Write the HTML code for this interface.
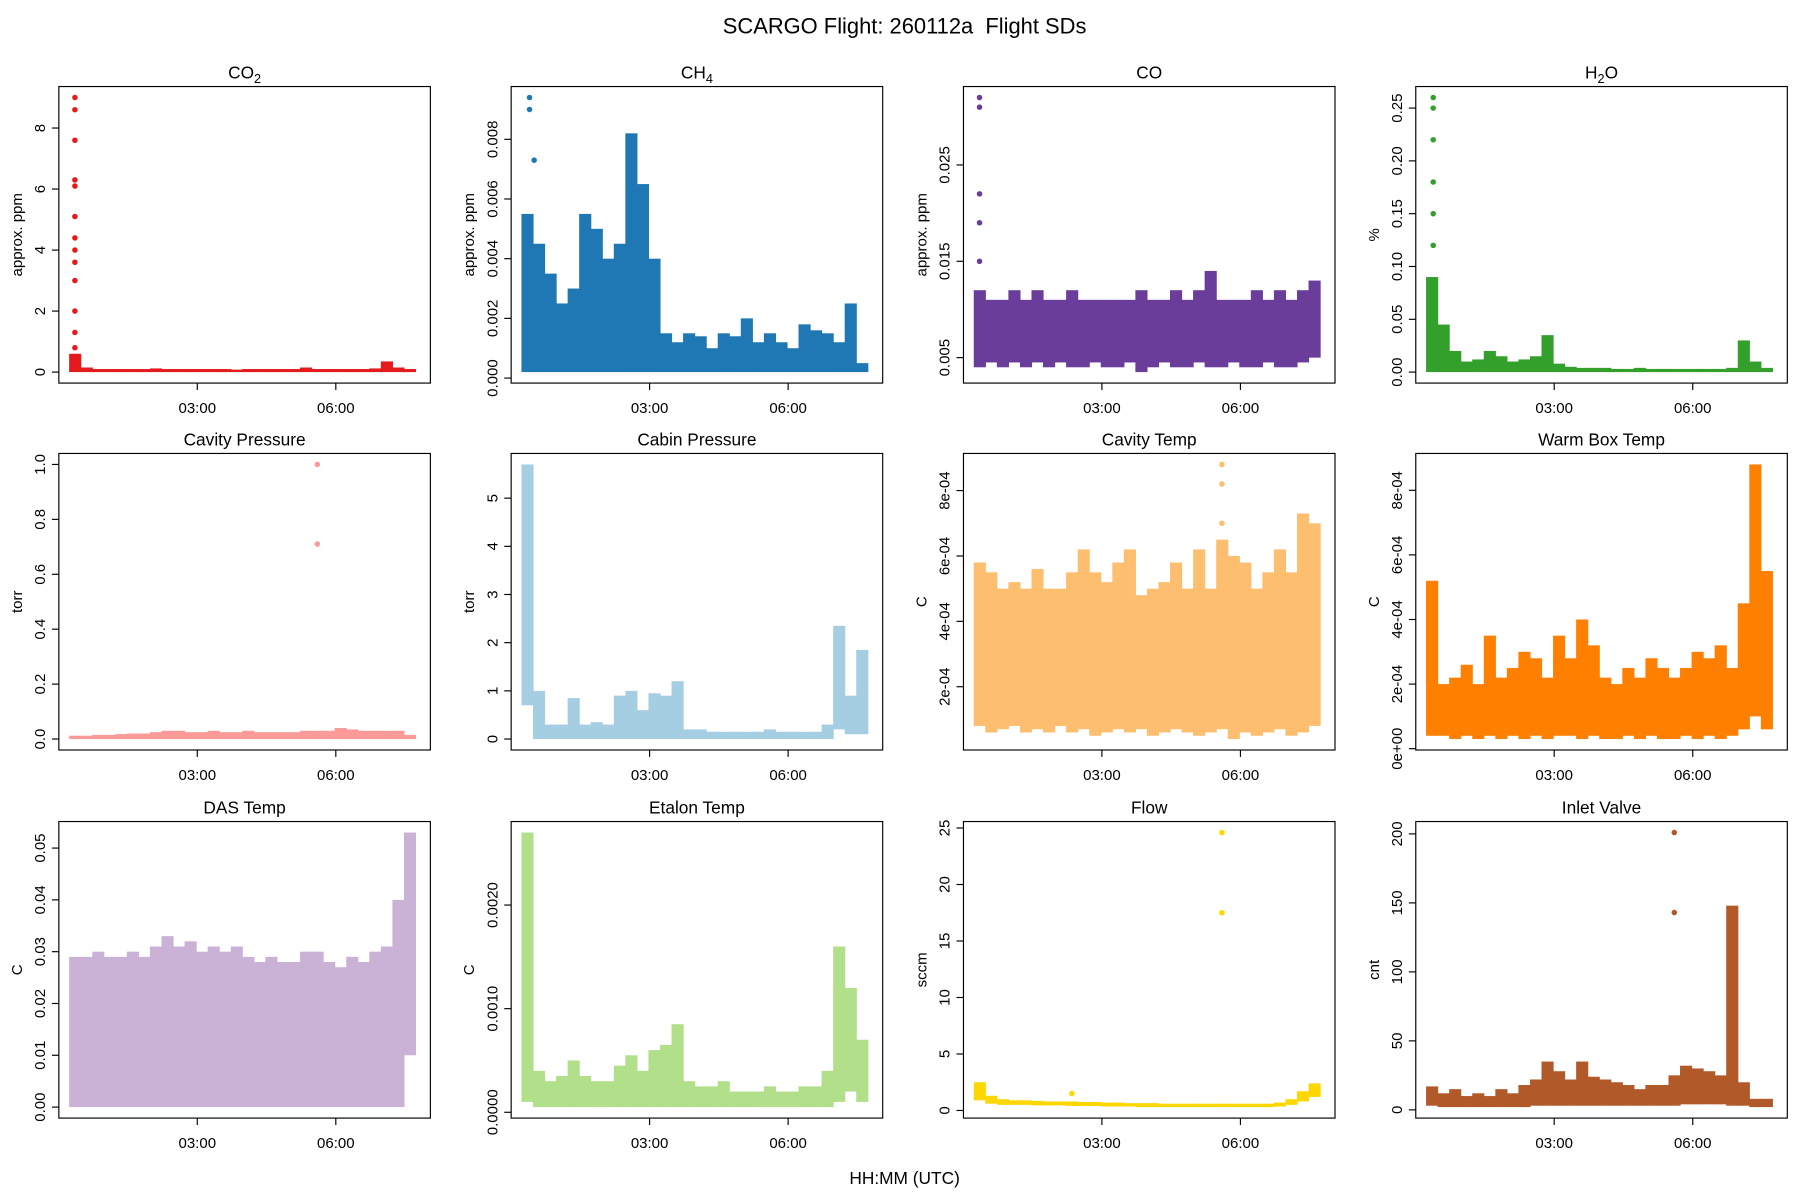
<!DOCTYPE html>
<html><head><meta charset="utf-8"><style>
html,body{margin:0;padding:0;background:#fff}
svg{display:block;font-family:"Liberation Sans",sans-serif}
</style></head><body>
<svg id="c" width="1800" height="1200" viewBox="0 0 1560 1040">
<text x="784" y="29" text-anchor="middle" font-size="19" xml:space="preserve">SCARGO Flight: 260112a&#160; Flight SDs</text>
<text x="784" y="1026" text-anchor="middle" font-size="15">HH:MM (UTC)</text>
</svg>
<script>
const times=[0.35,0.6,0.85,1.1,1.35,1.6,1.85,2.1,2.35,2.6,2.85,3.1,3.35,3.6,3.85,4.1,4.35,4.6,4.85,5.1,5.35,5.6,5.85,6.1,6.35,6.6,6.85,7.1,7.35,7.6];
const xTickVals=[3,6];
const xTickLabels=["03:00","06:00"];

const co2Lo=[0,0,0,0,0,0,0,0,0,0,0,0,0,0,0,0,0,0,0,0,0,0,0,0,0,0,0,0,0,0];
const co2Hi=[0.6,0.15,0.1,0.1,0.1,0.1,0.1,0.12,0.1,0.1,0.1,0.1,0.1,0.1,0.08,0.1,0.1,0.1,0.1,0.1,0.15,0.1,0.1,0.1,0.1,0.1,0.12,0.35,0.15,0.1];
const co2SpikeT=[0.35,0.35,0.35,0.35,0.35,0.35,0.35,0.35,0.35,0.35,0.35,0.35,0.35];
const co2SpikeV=[9,8.6,7.6,6.3,6.1,5.1,4.4,4,3.6,3,2,1.3,0.8];

const ch4Lo=[0.0002,0.0002,0.0002,0.0002,0.0002,0.0002,0.0002,0.0002,0.0002,0.0002,0.0002,0.0002,0.0002,0.0002,0.0002,0.0002,0.0002,0.0002,0.0002,0.0002,0.0002,0.0002,0.0002,0.0002,0.0002,0.0002,0.0002,0.0002,0.0002,0.0002];
const ch4Hi=[0.0055,0.0045,0.0035,0.0025,0.003,0.0055,0.005,0.004,0.0045,0.0082,0.0065,0.004,0.0015,0.0012,0.0015,0.0014,0.001,0.0015,0.0014,0.002,0.0012,0.0015,0.0012,0.001,0.0018,0.0016,0.0015,0.0012,0.0025,0.0005];
const ch4SpikeT=[0.4,0.4,0.5];
const ch4SpikeV=[0.0094,0.009,0.0073];

const coLo=[0.004,0.0045,0.004,0.0045,0.004,0.0045,0.004,0.0045,0.004,0.004,0.0045,0.004,0.004,0.0045,0.0035,0.004,0.0045,0.004,0.004,0.0045,0.004,0.004,0.0045,0.004,0.004,0.0045,0.004,0.004,0.0045,0.005];
const coHi=[0.012,0.011,0.011,0.012,0.011,0.012,0.011,0.011,0.012,0.011,0.011,0.011,0.011,0.011,0.012,0.011,0.011,0.012,0.011,0.012,0.014,0.011,0.011,0.011,0.012,0.011,0.012,0.011,0.012,0.013];
const coSpikeT=[0.35,0.35,0.35,0.35,0.35];
const coSpikeV=[0.032,0.031,0.022,0.019,0.015];

const h2oLo=[0,0,0,0,0,0,0,0,0,0,0,0,0,0,0,0,0,0,0,0,0,0,0,0,0,0,0,0,0,0];
const h2oHi=[0.09,0.045,0.02,0.01,0.012,0.02,0.015,0.01,0.012,0.015,0.035,0.008,0.005,0.004,0.004,0.004,0.003,0.003,0.004,0.003,0.003,0.003,0.003,0.003,0.003,0.003,0.004,0.03,0.01,0.004];
const h2oSpikeT=[0.38,0.38,0.38,0.38,0.38,0.38];
const h2oSpikeV=[0.26,0.25,0.22,0.18,0.15,0.12];

const cavPLo=[0,0,0,0,0,0,0,0,0,0,0,0,0,0,0,0,0,0,0,0,0,0,0,0,0,0,0,0,0,0];
const cavPHi=[0.012,0.012,0.015,0.015,0.018,0.02,0.02,0.025,0.03,0.03,0.025,0.025,0.03,0.025,0.025,0.03,0.025,0.025,0.025,0.025,0.03,0.03,0.03,0.04,0.035,0.03,0.03,0.03,0.03,0.015];
const cavPSpikeT=[5.6,5.6];
const cavPSpikeV=[1.0,0.71];

const cabPLo=[0.7,0,0,0,0,0,0,0,0,0,0,0,0,0,0,0,0,0,0,0,0,0,0,0,0,0,0,0.2,0.1,0.1];
const cabPHi=[5.7,1.0,0.3,0.3,0.85,0.3,0.35,0.3,0.9,1.0,0.6,0.95,0.9,1.2,0.2,0.2,0.15,0.15,0.15,0.15,0.15,0.2,0.15,0.15,0.15,0.15,0.3,2.35,0.9,1.85];
const cabPSpikeT=[];
const cabPSpikeV=[];

const cavTLo=[0.00008,0.00006,0.00007,0.00008,0.00006,0.00007,0.00006,0.00008,0.00006,0.00007,0.00005,0.00006,0.00007,0.00006,0.00007,0.00005,0.00006,0.00007,0.00006,0.00005,0.00006,0.00007,0.00004,0.00006,0.00005,0.00006,0.00007,0.00005,0.00006,0.00008];
const cavTHi=[0.00058,0.00055,0.0005,0.00052,0.0005,0.00056,0.0005,0.0005,0.00055,0.00062,0.00055,0.00052,0.00058,0.00062,0.00048,0.0005,0.00052,0.00058,0.0005,0.00062,0.0005,0.00065,0.0006,0.00058,0.0005,0.00055,0.00062,0.00055,0.00073,0.0007];
const cavTSpikeT=[5.6,5.6,5.6];
const cavTSpikeV=[0.00088,0.00082,0.0007];

const wbTLo=[0.00004,0.00004,0.00003,0.00004,0.00003,0.00004,0.00003,0.00004,0.00003,0.00004,0.00003,0.00004,0.00004,0.00003,0.00004,0.00003,0.00003,0.00004,0.00003,0.00004,0.00003,0.00003,0.00004,0.00003,0.00004,0.00003,0.00004,0.00006,0.0001,0.00006];
const wbTHi=[0.00052,0.0002,0.00022,0.00026,0.0002,0.00035,0.00022,0.00025,0.0003,0.00028,0.00022,0.00035,0.00028,0.0004,0.00032,0.00022,0.0002,0.00025,0.00022,0.00028,0.00025,0.00022,0.00025,0.0003,0.00028,0.00032,0.00025,0.00045,0.00088,0.00055];
const wbTSpikeT=[];
const wbTSpikeV=[];

const dasLo=[0,0,0,0,0,0,0,0,0,0,0,0,0,0,0,0,0,0,0,0,0,0,0,0,0,0,0,0,0,0.01];
const dasHi=[0.029,0.029,0.03,0.029,0.029,0.03,0.029,0.031,0.033,0.031,0.032,0.03,0.031,0.03,0.031,0.029,0.028,0.029,0.028,0.028,0.03,0.03,0.028,0.027,0.029,0.028,0.03,0.031,0.04,0.053];
const dasSpikeT=[];
const dasSpikeV=[];

const etaLo=[0.0001,0.00005,0.00005,0.00005,0.00005,0.00005,0.00005,0.00005,0.00005,0.00005,0.00005,0.00005,0.00005,0.00005,0.00005,0.00005,0.00005,0.00005,0.00005,0.00005,0.00005,0.00005,0.00005,0.00005,0.00005,0.00005,0.00005,0.0001,0.0002,0.0001];
const etaHi=[0.0027,0.0004,0.0003,0.00035,0.0005,0.00035,0.0003,0.0003,0.00045,0.00055,0.0004,0.0006,0.00065,0.00085,0.0003,0.00025,0.00025,0.0003,0.0002,0.0002,0.0002,0.00025,0.0002,0.0002,0.00025,0.00025,0.0004,0.0016,0.0012,0.0007];
const etaSpikeT=[];
const etaSpikeV=[];

const flowLo=[0.9,0.6,0.5,0.5,0.5,0.45,0.45,0.45,0.4,0.4,0.4,0.35,0.35,0.35,0.3,0.3,0.3,0.3,0.3,0.3,0.3,0.3,0.3,0.3,0.3,0.3,0.35,0.5,0.8,1.2];
const flowHi=[2.5,1.3,1.0,0.9,0.9,0.85,0.8,0.8,0.8,0.75,0.75,0.7,0.7,0.65,0.65,0.65,0.6,0.6,0.6,0.6,0.6,0.6,0.6,0.6,0.6,0.6,0.7,1.0,1.7,2.4];
const flowSpikeT=[5.6,5.6,2.35];
const flowSpikeV=[24.6,17.5,1.5];

const valveLo=[3,2,2,2,2,2,2,2,2,3,3,3,3,3,3,3,3,3,3,3,3,3,4,4,4,4,3,3,2,2];
const valveHi=[17,12,15,10,12,10,15,12,18,22,35,28,22,35,24,22,20,18,15,18,18,25,32,30,28,25,148,20,8,8];
const valveSpikeT=[5.6,5.6];
const valveSpikeV=[201,143];

const panels=[
 {id:"co2",t:["CO","2"],yl:"approx. ppm",col:"#e41a1c",tk:[0,2,4,6,8],tl:["0","2","4","6","8"],lo:co2Lo,hi:co2Hi,st:co2SpikeT,sv:co2SpikeV},
 {id:"ch4",t:["CH","4"],yl:"approx. ppm",col:"#1f78b4",tk:[0,0.002,0.004,0.006,0.008],tl:["0.000","0.002","0.004","0.006","0.008"],lo:ch4Lo,hi:ch4Hi,st:ch4SpikeT,sv:ch4SpikeV},
 {id:"co",t:["CO",""],yl:"approx. ppm",col:"#6a3d9a",tk:[0.005,0.015,0.025],tl:["0.005","0.015","0.025"],lo:coLo,hi:coHi,st:coSpikeT,sv:coSpikeV},
 {id:"h2o",t:["H","2","O"],yl:"%",col:"#33a02c",tk:[0,0.05,0.1,0.15,0.2,0.25],tl:["0.00","0.05","0.10","0.15","0.20","0.25"],lo:h2oLo,hi:h2oHi,st:h2oSpikeT,sv:h2oSpikeV},
 {id:"cavity-pressure",t:["Cavity Pressure",""],yl:"torr",col:"#fb9a99",tk:[0,0.2,0.4,0.6,0.8,1.0],tl:["0.0","0.2","0.4","0.6","0.8","1.0"],lo:cavPLo,hi:cavPHi,st:cavPSpikeT,sv:cavPSpikeV},
 {id:"cabin-pressure",t:["Cabin Pressure",""],yl:"torr",col:"#a6cee3",tk:[0,1,2,3,4,5],tl:["0","1","2","3","4","5"],lo:cabPLo,hi:cabPHi,st:cabPSpikeT,sv:cabPSpikeV},
 {id:"cavity-temp",t:["Cavity Temp",""],yl:"C",col:"#fdbf6f",tk:[0.0002,0.0004,0.0006,0.0008],tl:["2e-04","4e-04","6e-04","8e-04"],lo:cavTLo,hi:cavTHi,st:cavTSpikeT,sv:cavTSpikeV},
 {id:"warm-box-temp",t:["Warm Box Temp",""],yl:"C",col:"#ff7f00",tk:[0,0.0002,0.0004,0.0006,0.0008],tl:["0e+00","2e-04","4e-04","6e-04","8e-04"],lo:wbTLo,hi:wbTHi,st:wbTSpikeT,sv:wbTSpikeV},
 {id:"das-temp",t:["DAS Temp",""],yl:"C",col:"#cab2d6",tk:[0,0.01,0.02,0.03,0.04,0.05],tl:["0.00","0.01","0.02","0.03","0.04","0.05"],lo:dasLo,hi:dasHi,st:dasSpikeT,sv:dasSpikeV},
 {id:"etalon-temp",t:["Etalon Temp",""],yl:"C",col:"#b2df8a",tk:[0,0.001,0.002],tl:["0.0000","0.0010","0.0020"],lo:etaLo,hi:etaHi,st:etaSpikeT,sv:etaSpikeV},
 {id:"flow",t:["Flow",""],yl:"sccm",col:"#ffd700",tk:[0,5,10,15,20,25],tl:["0","5","10","15","20","25"],lo:flowLo,hi:flowHi,st:flowSpikeT,sv:flowSpikeV},
 {id:"inlet-valve",t:["Inlet Valve",""],yl:"cnt",col:"#b15928",tk:[0,50,100,150,200],tl:["0","50","100","150","200"],lo:valveLo,hi:valveHi,st:valveSpikeT,sv:valveSpikeV}
];
const NS="http://www.w3.org/2000/svg";
const svg=document.getElementById("c");
function mk(tag,attrs,parent){const e=document.createElementNS(NS,tag);for(const k in attrs)e.setAttribute(k,attrs[k]);(parent||svg).appendChild(e);return e;}
const colX=[51,443,835,1227],rowY=[75,393,712],W=322,H=257;
panels.forEach((p,i)=>{
 const bx=colX[i%4],by=rowY[Math.floor(i/4)];
 const g=mk("g",{});
 
 
 const allv=p.lo.concat(p.hi,p.sv);
 let ymin=Math.min(...allv),ymax=Math.max(...allv);const pad=(ymax-ymin)*0.04;ymin-=pad;ymax+=pad;
 const tmin=Math.min(...times)-0.05,tmax=Math.max(...times)+0.15,tp=(tmax-tmin)*0.04;
 const x0=tmin-tp,x1=tmax+tp;
 const sx=t=>bx+(t-x0)/(x1-x0)*W, sy=v=>by+H-(v-ymin)/(ymax-ymin)*H;
 const tt=mk("text",{x:bx+W/2,y:by-7,"text-anchor":"middle","font-size":15},g);
 
 
 tt.appendChild(document.createTextNode(p.t[0]));
 if(p.t[1]){const s=mk("tspan",{"font-size":11,dy:4},tt);s.textContent=p.t[1];}
 if(p.t[2]){const s=mk("tspan",{dy:-4},tt);s.textContent=p.t[2];}
 const bw=(sx(0.25)-sx(0));
 times.forEach((t,k)=>{
  const r=mk("rect",{x:sx(t)-bw/2,y:sy(p.hi[k]),width:bw+0.5,height:Math.max(2,sy(p.lo[k])-sy(p.hi[k])),fill:p.col},g);
  
  
 });
 p.st.forEach((t,k)=>{
  const c=mk("circle",{cx:sx(t),cy:sy(p.sv[k]),r:2.4,fill:p.col},g);
  
  
 });
 const box=mk("rect",{x:bx,y:by,width:W,height:H,fill:"none",stroke:"#000","stroke-width":1},g);
 
 
 p.tk.forEach((v,k)=>{
  const y=sy(v);
  mk("line",{x1:bx,x2:bx-6,y1:y,y2:y,stroke:"#000"},g);
  const l=mk("text",{x:bx-12,y:y,"font-size":13,"text-anchor":"middle",transform:`rotate(-90 ${bx-12} ${y})`},g);
  
  
  l.textContent=p.tl[k];
 });
 const yl=mk("text",{x:bx-32,y:by+H/2,"font-size":13,"text-anchor":"middle",transform:`rotate(-90 ${bx-32} ${by+H/2})`},g);
 
 
 yl.textContent=p.yl;
 xTickVals.forEach((v,k)=>{
  const x=sx(v);
  mk("line",{x1:x,x2:x,y1:by+H,y2:by+H+6,stroke:"#000"},g);
  const l=mk("text",{x:x,y:by+H+26,"font-size":13,"text-anchor":"middle"},g);
  
  
  l.textContent=xTickLabels[k];
 });
});
</script>
</body></html>
